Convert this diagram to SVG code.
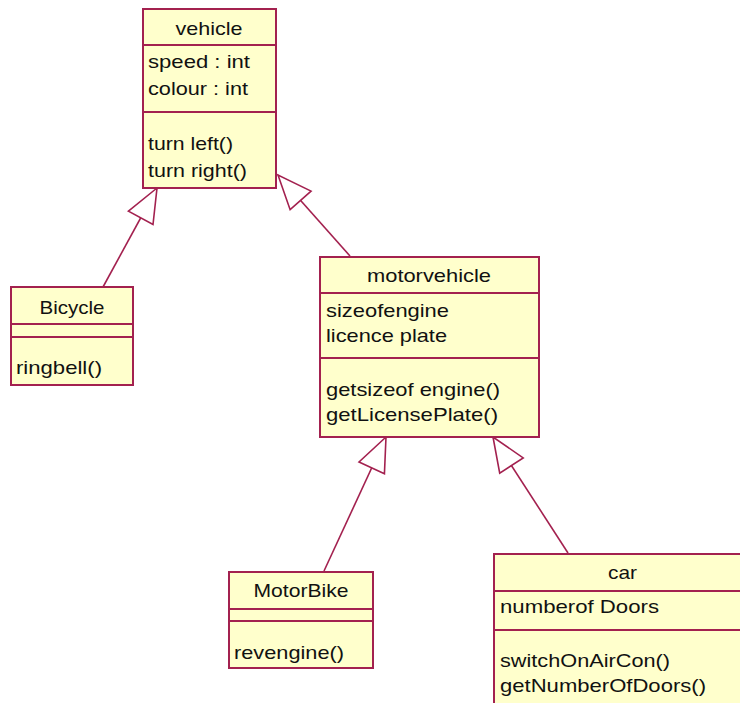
<svg xmlns="http://www.w3.org/2000/svg" width="740" height="703" viewBox="0 0 740 703">
<style>
.box{fill:#FFFFCC;stroke:#A3214F;stroke-width:2}
.div{stroke:#A3214F;stroke-width:2}
.t{font-family:"Liberation Sans",Arial,sans-serif;font-size:19px;fill:#111}
.c{text-anchor:middle}
.edge{stroke:#A3214F;stroke-width:1.6;fill:none;marker-end:url(#gen)}
</style>
<defs>
<marker id="gen" viewBox="-36 -16 38 32" markerWidth="38" markerHeight="32" refX="0" refY="0" markerUnits="userSpaceOnUse" orient="auto">
<path d="M0,0 L-34,-14 L-34,14 Z" fill="#FFFFFF" stroke="#A3214F" stroke-width="1.6"/>
</marker>
</defs>
<rect width="740" height="703" fill="#FFFFFF"/>
<g id="connectors">
<line class="edge" x1="103" y1="287" x2="157" y2="188"/>
<line class="edge" x1="350" y1="256" x2="278" y2="175"/>
<line class="edge" x1="324" y1="571" x2="386" y2="437"/>
<line class="edge" x1="568" y1="553" x2="493" y2="437"/>
</g>
<g id="vehicle">
<rect class="box" x="143" y="9" width="133" height="179"/>
<line class="div" x1="143" y1="45" x2="276" y2="45"/>
<line class="div" x1="143" y1="112" x2="276" y2="112"/>
<text class="t c" x="209" y="35" textLength="67" lengthAdjust="spacingAndGlyphs">vehicle</text>
<text class="t" x="148" y="68" textLength="102" lengthAdjust="spacingAndGlyphs">speed : int</text>
<text class="t" x="148" y="95" textLength="100" lengthAdjust="spacingAndGlyphs">colour : int</text>
<text class="t" x="148" y="150" textLength="85" lengthAdjust="spacingAndGlyphs">turn left()</text>
<text class="t" x="148" y="177" textLength="99" lengthAdjust="spacingAndGlyphs">turn right()</text>
</g>
<g id="bicycle">
<rect class="box" x="11" y="287" width="122" height="98"/>
<line class="div" x1="11" y1="324" x2="133" y2="324"/>
<line class="div" x1="11" y1="337" x2="133" y2="337"/>
<text class="t c" x="72" y="314" textLength="65" lengthAdjust="spacingAndGlyphs">Bicycle</text>
<text class="t" x="16" y="374" textLength="86" lengthAdjust="spacingAndGlyphs">ringbell()</text>
</g>
<g id="motorvehicle">
<rect class="box" x="320" y="257" width="219" height="180"/>
<line class="div" x1="320" y1="293" x2="539" y2="293"/>
<line class="div" x1="320" y1="358" x2="539" y2="358"/>
<text class="t c" x="429" y="282" textLength="124" lengthAdjust="spacingAndGlyphs">motorvehicle</text>
<text class="t" x="326" y="317" textLength="123" lengthAdjust="spacingAndGlyphs">sizeofengine</text>
<text class="t" x="326" y="342" textLength="121" lengthAdjust="spacingAndGlyphs">licence plate</text>
<text class="t" x="326" y="396" textLength="174" lengthAdjust="spacingAndGlyphs">getsizeof engine()</text>
<text class="t" x="326" y="421" textLength="172" lengthAdjust="spacingAndGlyphs">getLicensePlate()</text>
</g>
<g id="motorbike">
<rect class="box" x="229" y="572" width="144" height="96"/>
<line class="div" x1="229" y1="609" x2="373" y2="609"/>
<line class="div" x1="229" y1="621" x2="373" y2="621"/>
<text class="t c" x="301" y="597" textLength="95" lengthAdjust="spacingAndGlyphs">MotorBike</text>
<text class="t" x="234" y="659" textLength="110" lengthAdjust="spacingAndGlyphs">revengine()</text>
</g>
<g id="car">
<rect class="box" x="494" y="554" width="257" height="160"/>
<line class="div" x1="494" y1="591" x2="751" y2="591"/>
<line class="div" x1="494" y1="630" x2="751" y2="630"/>
<text class="t c" x="622.5" y="579" textLength="29" lengthAdjust="spacingAndGlyphs">car</text>
<text class="t" x="500" y="613" textLength="159" lengthAdjust="spacingAndGlyphs">numberof Doors</text>
<text class="t" x="500" y="667" textLength="170" lengthAdjust="spacingAndGlyphs">switchOnAirCon()</text>
<text class="t" x="500" y="692" textLength="206" lengthAdjust="spacingAndGlyphs">getNumberOfDoors()</text>
</g>
</svg>
